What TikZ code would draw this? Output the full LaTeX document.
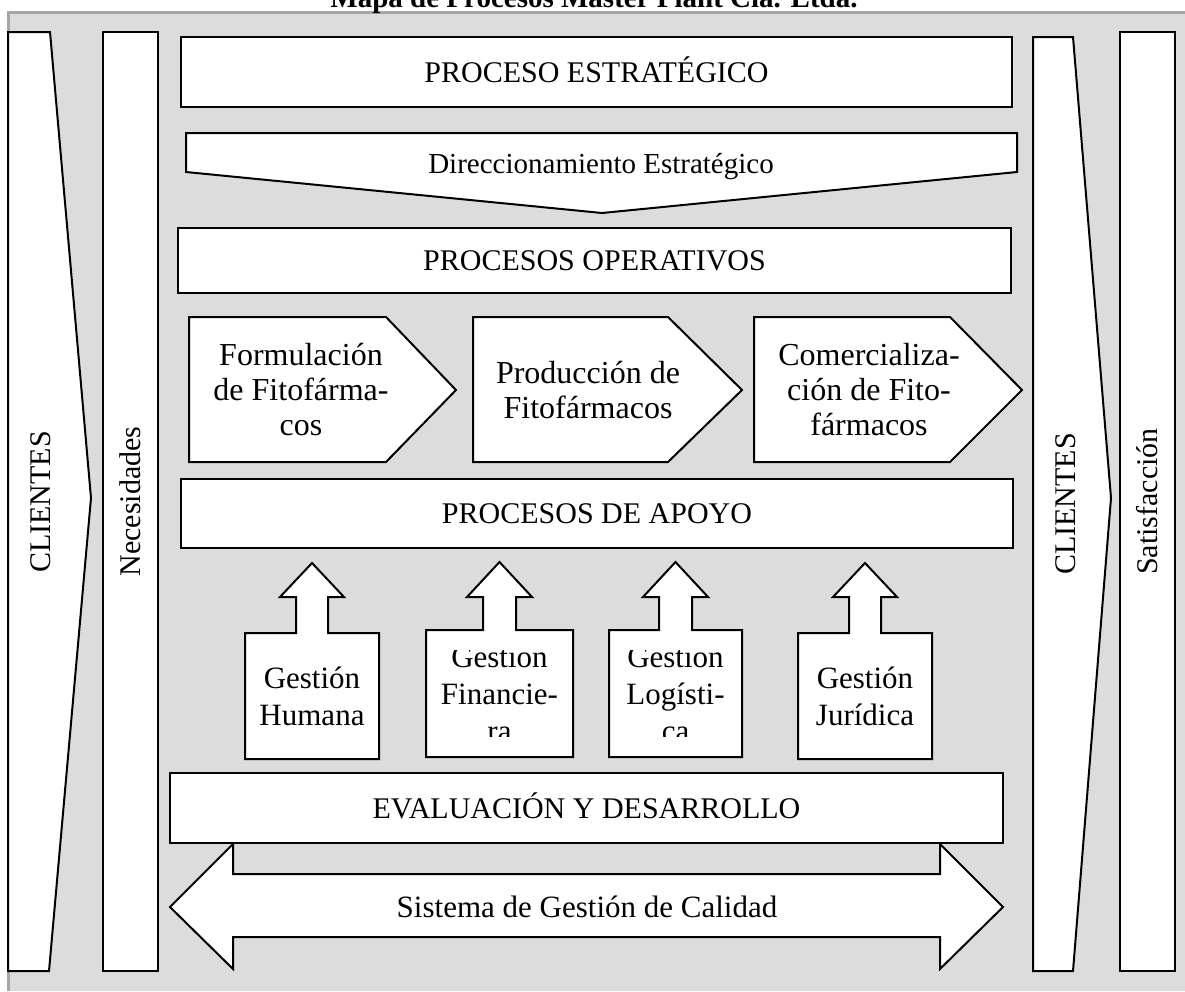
\documentclass[tikz,border=0pt]{standalone}
\usepackage{fontspec}
\setmainfont{Liberation Serif}
\usepackage{tikz}
\usetikzlibrary{positioning}

\definecolor{panelgrey}{RGB}{220,220,220}
\definecolor{edgegrey}{RGB}{166,166,166}

\begin{document}
\begin{tikzpicture}[
  x=1pt, y=-1pt,
  blk/.style={draw=black, line width=2pt, fill=white},
  box/.style={blk, inner sep=0pt, align=center,
              font=\fontsize{30}{36}\selectfont,
              text height=20pt, text depth=0pt},
  lbl/.style={inner sep=0pt, align=center,
              font=\fontsize{32}{35}\selectfont},
  glbl/.style={inner sep=0pt, align=center,
               font=\fontsize{31}{37}\selectfont},
]
  \useasboundingbox (0,0) rectangle (1185,991);
  \clip (0,0) rectangle (1185,991);

  % Frame
  \fill[panelgrey] (8,12) rectangle (1185,991);
  \draw[edgegrey, line width=3pt] (8,991) -- (8,12) -- (1185,12);
  \node[anchor=base, inner sep=0pt, font=\bfseries\fontsize{29}{34}\selectfont]
        (title) at (594,7) {Mapa de Procesos Master Plant Cía. Ltda.};

  % Input side
  \draw[blk] (8,32) -- (50,32) -- (91,498) -- (49,971) -- (8,971) -- cycle;
  \node[box, draw=none, fill=none, rotate=90] (cliin) at (40,502) {CLIENTES};
  \node[box, rotate=90, minimum width=939pt, minimum height=55pt]
        (needs) at (130.5,501.5) {Necesidades};

  % Output side
  \draw[blk] (1033,37) -- (1073,37) -- (1111,498) -- (1073,971) -- (1033,971) -- cycle;
  \node[box, draw=none, fill=none, rotate=90] (cliout) at (1065,504) {CLIENTES};
  \node[box, rotate=90, minimum width=939pt, minimum height=55pt]
        (satis) at (1147.5,501.5) {Satisfacción};

  % Strategic
  \node[box, minimum width=831pt, minimum height=70pt] (strat) at (596.5,72)
        {PROCESO ESTRATÉGICO};
  \draw[blk] (186,133) -- (1017,133) -- (1017,172) -- (602,213) -- (186,172) -- cycle;
  \node[box, draw=none, fill=none, font=\fontsize{29}{35}\selectfont]
        (direc) at (601,163) {Direccionamiento Estratégico};

  % Operative
  \node[box, minimum width=833pt, minimum height=65pt] (oper) at (594.5,260.5)
        {PROCESOS OPERATIVOS};
  \draw[blk] (189,317) -- (386,317) -- (456,390) -- (386,462) -- (189,462) -- cycle;
  \draw[blk] (473,317) -- (668,317) -- (742,390) -- (668,462) -- (473,462) -- cycle;
  \draw[blk] (754,317) -- (950,317) -- (1022,390) -- (950,462) -- (754,462) -- cycle;
  \node[lbl] (formu) at (301,390) {Formulación\\de Fitofárma-\\cos};
  \node[lbl] (produ) at (588,390) {Producción de\\Fitofármacos};
  \node[lbl] (comer) at (869,390) {Comercializa-\\ción de Fito-\\fármacos};

  % Support
  \node[box, minimum width=832pt, minimum height=69pt] (apoyo) at (597,513.5)
        {PROCESOS DE APOYO};
  \draw[blk] (245,759) -- (245,633) -- (296,633) -- (296,597) -- (280,597) -- (312,563)
        -- (344,597) -- (328,597) -- (328,633) -- (379,633) -- (379,759) -- cycle;
  \draw[blk] (426,757) -- (426,630) -- (483,630) -- (483,597) -- (467,597) -- (499.5,562)
        -- (532,597) -- (516,597) -- (516,630) -- (573,630) -- (573,757) -- cycle;
  \draw[blk] (609,757) -- (609,630) -- (659,630) -- (659,597) -- (643,597) -- (675.5,562)
        -- (708,597) -- (692,597) -- (692,630) -- (742,630) -- (742,757) -- cycle;
  \draw[blk] (798,759) -- (798,633) -- (849,633) -- (849,597) -- (833,597) -- (865,563)
        -- (897,597) -- (881,597) -- (881,633) -- (932,633) -- (932,759) -- cycle;
  \node[glbl] (human) at (312,696) {Gestión\\Humana};
  \begin{scope}
    \clip (426,650) rectangle (573,736);
    \node[glbl] (finan) at (499.5,693.5) {Gestión\\Financie-\\ra};
  \end{scope}
  \begin{scope}
    \clip (609,650) rectangle (742,736);
    \node[glbl] (logis) at (675.5,693.5) {Gestión\\Logísti-\\ca};
  \end{scope}
  \node[glbl] (jurid) at (865,696) {Gestión\\Jurídica};

  % Quality system
  \draw[blk] (170,907) -- (233,844) -- (233,874) -- (940,874) -- (940,844) -- (1003,907)
        -- (940,969) -- (940,937) -- (233,937) -- (233,969) -- cycle;
  \node[box, draw=none, fill=none, font=\fontsize{31}{37}\selectfont]
        (calid) at (587,907) {Sistema de Gestión de Calidad};
  \node[box, minimum width=833pt, minimum height=70pt] (evalu) at (586.5,808)
        {EVALUACIÓN Y DESARROLLO};
\end{tikzpicture}
\end{document}
